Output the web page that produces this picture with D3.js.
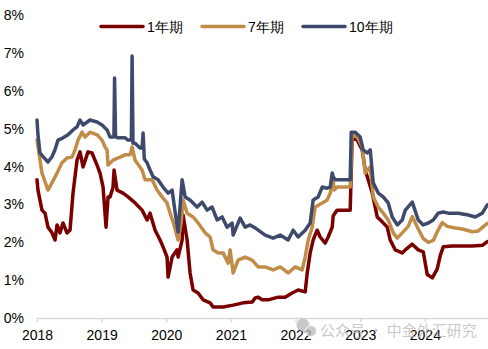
<!DOCTYPE html>
<html><head><meta charset="utf-8">
<script src="https://cdn.jsdelivr.net/npm/d3@7/dist/d3.min.js"></script>
<style>body{margin:0;background:#fff}svg{display:block;font-family:"Liberation Sans",Arial,sans-serif}</style>
</head><body><svg id="c" width="488" height="349"></svg>
<script>
const seriesNames = ["1年期", "7年期", "10年期"];
const seriesColors = ["#7a0000", "#c18c48", "#3e4a6c"];
const yTicks = [0,1,2,3,4,5,6,7,8];
const xTicks = [2018,2019,2020,2021,2022,2023,2024];

// [decimal year, yield %]
const y1 = [[2018.00,3.65],[2018.015,3.38],[2018.077,2.85],[2018.124,2.77],[2018.17,2.40],[2018.232,2.25],[2018.279,2.06],[2018.31,2.46],[2018.356,2.25],[2018.402,2.51],[2018.464,2.25],[2018.511,2.32],[2018.557,3.30],[2018.619,4.17],[2018.666,4.39],[2018.712,3.99],[2018.789,4.39],[2018.851,4.36],[2018.929,4.04],[2018.975,3.83],[2019.022,3.46],[2019.068,2.40],[2019.099,3.20],[2019.13,3.20],[2019.176,3.45],[2019.192,3.91],[2019.238,3.38],[2019.331,3.30],[2019.409,3.20],[2019.517,3.04],[2019.625,2.85],[2019.703,2.59],[2019.749,2.77],[2019.827,2.32],[2019.904,2.06],[2019.95,1.88],[2020.012,1.61],[2020.028,1.08],[2020.09,1.61],[2020.167,1.80],[2020.183,1.61],[2020.245,2.06],[2020.26,2.72],[2020.322,2.06],[2020.368,1.19],[2020.415,0.74],[2020.492,0.66],[2020.57,0.48],[2020.678,0.40],[2020.724,0.29],[2020.879,0.29],[2021.034,0.34],[2021.189,0.40],[2021.328,0.42],[2021.375,0.53],[2021.421,0.55],[2021.483,0.48],[2021.576,0.48],[2021.731,0.55],[2021.839,0.55],[2021.947,0.66],[2022.04,0.74],[2022.149,0.69],[2022.18,1.19],[2022.226,1.72],[2022.272,2.06],[2022.334,2.32],[2022.381,2.14],[2022.458,1.98],[2022.505,2.14],[2022.567,2.40],[2022.582,2.70],[2022.644,2.85],[2022.845,2.85],[2022.876,4.78],[2022.954,4.70],[2023.031,4.44],[2023.077,3.91],[2023.124,3.65],[2023.186,3.30],[2023.263,2.67],[2023.341,2.54],[2023.418,2.40],[2023.464,2.06],[2023.542,1.80],[2023.65,1.72],[2023.697,1.80],[2023.805,1.95],[2023.898,1.80],[2023.975,1.75],[2024.037,1.15],[2024.115,1.06],[2024.192,1.30],[2024.238,1.65],[2024.285,1.88],[2024.424,1.90],[2024.734,1.90],[2024.889,1.92],[2024.966,2.02]];

const y7 = [[2018.00,4.70],[2018.077,3.83],[2018.17,3.38],[2018.232,3.57],[2018.31,3.83],[2018.387,4.10],[2018.464,4.23],[2018.542,4.25],[2018.588,4.44],[2018.635,4.70],[2018.697,4.91],[2018.743,4.78],[2018.82,4.91],[2018.929,4.84],[2019.006,4.70],[2019.053,4.52],[2019.084,4.44],[2019.099,4.04],[2019.176,4.17],[2019.285,4.25],[2019.362,4.31],[2019.44,4.31],[2019.471,4.52],[2019.517,4.17],[2019.625,3.91],[2019.672,3.65],[2019.78,3.65],[2019.858,3.38],[2019.935,3.20],[2020.012,3.04],[2020.059,2.77],[2020.105,2.54],[2020.183,2.06],[2020.229,2.51],[2020.26,3.12],[2020.322,2.77],[2020.415,2.67],[2020.492,2.51],[2020.601,2.25],[2020.678,2.14],[2020.724,1.80],[2020.802,1.72],[2020.879,1.72],[2020.957,1.45],[2020.988,1.80],[2021.034,1.19],[2021.111,1.53],[2021.22,1.61],[2021.328,1.53],[2021.421,1.35],[2021.529,1.35],[2021.653,1.27],[2021.762,1.35],[2021.885,1.19],[2021.994,1.35],[2022.102,1.27],[2022.149,1.61],[2022.195,2.06],[2022.257,2.40],[2022.303,2.93],[2022.412,3.04],[2022.489,3.12],[2022.536,3.30],[2022.582,3.65],[2022.597,3.38],[2022.644,3.46],[2022.845,3.46],[2022.876,4.84],[2022.954,4.78],[2023.031,4.52],[2023.077,3.83],[2023.155,3.99],[2023.201,3.20],[2023.279,2.93],[2023.356,2.77],[2023.433,2.59],[2023.511,2.25],[2023.573,2.11],[2023.65,2.25],[2023.743,2.42],[2023.805,2.68],[2023.898,2.35],[2023.975,2.10],[2024.053,2.00],[2024.13,2.05],[2024.207,2.33],[2024.269,2.52],[2024.347,2.42],[2024.47,2.38],[2024.579,2.35],[2024.734,2.28],[2024.827,2.30],[2024.966,2.50]];

const y10 = [[2018.00,5.23],[2018.015,4.84],[2018.046,4.36],[2018.10,4.25],[2018.17,4.12],[2018.232,4.26],[2018.28,4.45],[2018.325,4.70],[2018.402,4.76],[2018.48,4.84],[2018.557,4.97],[2018.619,5.05],[2018.666,5.23],[2018.712,5.10],[2018.82,5.23],[2018.929,5.18],[2019.006,5.10],[2019.084,4.97],[2019.13,4.78],[2019.19,4.78],[2019.20,6.34],[2019.215,4.80],[2019.24,4.76],[2019.362,4.76],[2019.409,4.70],[2019.46,4.70],[2019.471,6.92],[2019.485,4.62],[2019.517,4.62],[2019.594,4.49],[2019.625,4.49],[2019.641,4.89],[2019.66,4.20],[2019.703,4.10],[2019.749,3.91],[2019.796,3.73],[2019.873,3.65],[2019.95,3.46],[2020.028,3.30],[2020.09,3.38],[2020.136,2.80],[2020.183,2.27],[2020.245,3.65],[2020.291,3.20],[2020.368,3.12],[2020.477,2.93],[2020.554,3.06],[2020.632,2.85],[2020.709,2.93],[2020.786,2.59],[2020.864,2.67],[2020.941,2.40],[2021.019,2.51],[2021.034,2.19],[2021.142,2.64],[2021.22,2.40],[2021.297,2.46],[2021.375,2.38],[2021.529,2.19],[2021.653,2.11],[2021.762,2.19],[2021.885,2.06],[2021.963,2.32],[2022.04,2.14],[2022.149,2.32],[2022.226,2.51],[2022.272,3.12],[2022.35,3.20],[2022.412,3.46],[2022.489,3.43],[2022.536,3.46],[2022.567,3.83],[2022.582,3.73],[2022.613,3.65],[2022.845,3.65],[2022.861,4.91],[2022.923,4.91],[2023.00,4.78],[2023.046,4.44],[2023.108,4.36],[2023.155,4.44],[2023.201,3.57],[2023.279,3.30],[2023.356,3.20],[2023.433,3.04],[2023.495,2.67],[2023.573,2.46],[2023.65,2.59],[2023.697,2.85],[2023.805,3.06],[2023.898,2.59],[2023.975,2.46],[2024.053,2.51],[2024.13,2.59],[2024.207,2.77],[2024.285,2.80],[2024.362,2.77],[2024.517,2.77],[2024.672,2.72],[2024.78,2.67],[2024.889,2.77],[2024.966,2.99]];

const seriesData = [y1, y7, y10];

const svg = d3.select("#c");
const x = d3.scaleLinear().domain([2018, 2025]).range([37, 489.5]);
const y = d3.scaleLinear().domain([0, 8]).range([318, 15.2]);

// y labels
svg.append("g").selectAll("text").data(yTicks).join("text")
  .attr("x", 24).attr("y", d => y(d)).attr("text-anchor", "end")
  .attr("dominant-baseline", "central").attr("font-size", 14).attr("fill", "#000")
  .text(d => d + "%");

// x axis
const xa = svg.append("g").attr("transform", "translate(0,318)")
  .call(d3.axisBottom(x).tickValues(xTicks).tickFormat(d3.format("d")).tickSize(4).tickSizeOuter(0));
xa.select(".domain").attr("stroke", "#d9d9d9").attr("stroke-width", 1.5);
xa.selectAll(".tick line").attr("stroke", "#d9d9d9").attr("stroke-width", 1.5);
xa.selectAll(".tick text").attr("font-size", 14).attr("fill", "#000").attr("y", 12)
  .attr("font-family", "Liberation Sans, Arial, sans-serif");

// lines
const line = d3.line().x(d => x(d[0])).y(d => y(d[1]));
seriesData.forEach((s, i) => {
  svg.append("path").datum(s).attr("d", line).attr("fill", "none")
    .attr("stroke", seriesColors[i]).attr("stroke-width", 3.5)
    .attr("stroke-linejoin", "round").attr("stroke-linecap", "round");
});

// legend
const legX = [101, 202, 303];
const lg = svg.append("g");
seriesNames.forEach((n, i) => {
  lg.append("line").attr("x1", legX[i]).attr("x2", legX[i] + 42).attr("y1", 26.5).attr("y2", 26.5)
    .attr("stroke", seriesColors[i]).attr("stroke-width", 3.5).attr("stroke-linecap", "round");
  lg.append("text").attr("x", legX[i] + 46).attr("y", 26.5).attr("dominant-baseline", "central")
    .attr("font-size", 14).attr("fill", "#000").text(n);
});

// watermark
const wm = svg.append("g").attr("opacity", 0.75);
wm.append("circle").attr("cx", 303).attr("cy", 325).attr("r", 6.5).attr("fill", "#b8b8b8");
wm.append("circle").attr("cx", 311).attr("cy", 331).attr("r", 5.5).attr("fill", "#b8b8b8").attr("stroke", "#fff").attr("stroke-width", 1);
wm.append("text").attr("x", 320).attr("y", 329).attr("dominant-baseline", "central")
  .attr("font-size", 15).attr("fill", "#b8b8b8").attr("font-family", "Noto Sans CJK SC, sans-serif")
  .text("公众号 · 中金外汇研究");
</script></body></html>
